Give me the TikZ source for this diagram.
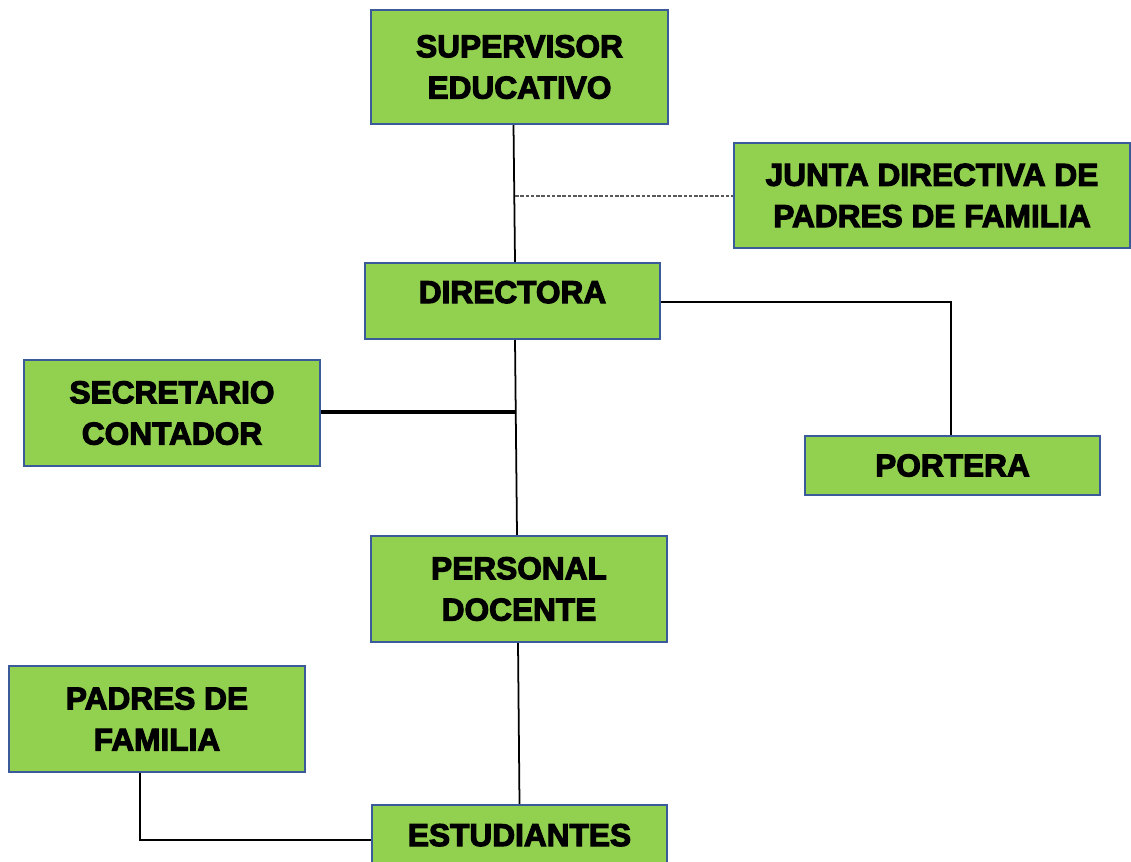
\documentclass[tikz,border=0pt]{standalone}
\usepackage{fontspec}
\newfontface\orgfont{Liberation Sans Bold}[FakeBold=3.5]
\definecolor{boxgreen}{HTML}{92D050}
\definecolor{boxblue}{HTML}{3A5A99}

\tikzset{
  unit/.style={draw=boxblue, line width=1.2pt, fill=boxgreen, align=center,
    font=\orgfont\fontsize{18}{23.5}\selectfont, inner sep=0pt},
  link/.style={line width=1pt},
}

\begin{document}
\begin{tikzpicture}[x=0.02cm, y=-0.02cm]
  \useasboundingbox (0,0) rectangle (1131,861);
  \node[unit, minimum width=297*0.02cm, minimum height=114*0.02cm] (sup) at (519.5,67) {SUPERVISOR\\EDUCATIVO};
  \node[unit, minimum width=396*0.02cm, minimum height=105*0.02cm] (junta) at (932,195.5) {JUNTA DIRECTIVA DE\\PADRES DE FAMILIA};
  \node[unit, minimum width=295*0.02cm, minimum height=76*0.02cm] (dir) at (512.5,301) {\raisebox{0.36cm}{DIRECTORA}};
  \node[unit, minimum width=296*0.02cm, minimum height=106*0.02cm] (sec) at (172,413) {SECRETARIO\\CONTADOR};
  \node[unit, minimum width=295*0.02cm, minimum height=59*0.02cm] (port) at (952.5,465.5) {PORTERA};
  \node[unit, minimum width=296*0.02cm, minimum height=106*0.02cm] (doc) at (519,589) {PERSONAL\\DOCENTE};
  \node[unit, minimum width=296*0.02cm, minimum height=106*0.02cm] (pad) at (157,719) {PADRES DE\\FAMILIA};
  \node[unit, minimum width=295*0.02cm, minimum height=70*0.02cm, text depth=0.2cm] (est) at (519.5,840) {ESTUDIANTES};

  \coordinate (jn) at (515,196);
  \coordinate (sn) at (516,412);
  \coordinate (pc) at (951,302);
  \coordinate (fc) at (140,840);

  \draw[link] (sup.south) ++(-6,0) -- ([xshift=0.05cm]dir.north);
  \draw[link, gray!70!black, line width=0.6pt, dash pattern=on 2pt off 1pt] (jn) -- (junta.west |- jn);
  \draw[link] (dir.east |- pc) -- (pc) -- (port.north -| pc);
  \draw[link] ([xshift=0.05cm]dir.south) -- ([xshift=-0.04cm]doc.north);
  \draw[line width=1.8pt] (sec.east |- sn) -- (sn);
  \draw[link] ([xshift=-0.02cm]doc.south) -- (est.north);
  \draw[link] (pad.south -| fc) -- (fc) -- (est.west |- fc);
\end{tikzpicture}
\end{document}
